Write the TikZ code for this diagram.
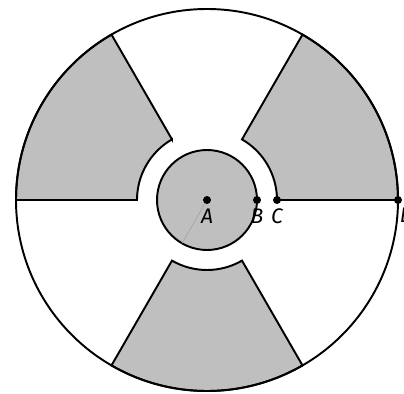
\documentclass[tikz,border=0pt]{standalone}
\usepackage{fontspec}
\setmainfont{Fira Sans}
\usepackage{tikz}
\usetikzlibrary{calc, positioning}

\tikzset{
    pt/.style={circle, fill=black, inner sep=0pt, minimum size=0.16cm},
    lbl/.style={font=\itshape\large, inner sep=1pt},
    blade/.style={fill=black!25, draw=black, line width=1.1pt}
}

\begin{document}
\begin{tikzpicture}[thick, >=latex]
        \useasboundingbox (-4.14,-3.88) rectangle (3.94,4.0);

        % shaded sectors
        \foreach \a in {0, 120, 240} {
            \draw[blade] (\a:1.4) -- (\a:3.82) arc[start angle=\a, end angle=\a+60, radius=3.82]
                -- (\a+60:1.4) arc[start angle=\a+60, end angle=\a, radius=1.4] -- cycle;
        }

        % outer and inner circle
        \draw[line width=1.1pt] (0,0) circle (3.82);
        \draw[blade] (0,0) circle (1.0);
        \draw[black!35, thin] (0,0) -- (240:1.0);

        \node[pt] (A) at (0,0) {};
        \node[pt] (B) at (1.0,0) {};
        \node[pt] (C) at (1.4,0) {};
        \node[pt] (D) at (3.82,0) {};

        \node[lbl, below=0.04cm of A] {A};
        \node[lbl, below=0.04cm of B] {B};
        \node[lbl, below=0.04cm of C] {C};
        \node[lbl, below right=0.04cm and -0.08cm of D] {D};
    \end{tikzpicture}
\end{document}
